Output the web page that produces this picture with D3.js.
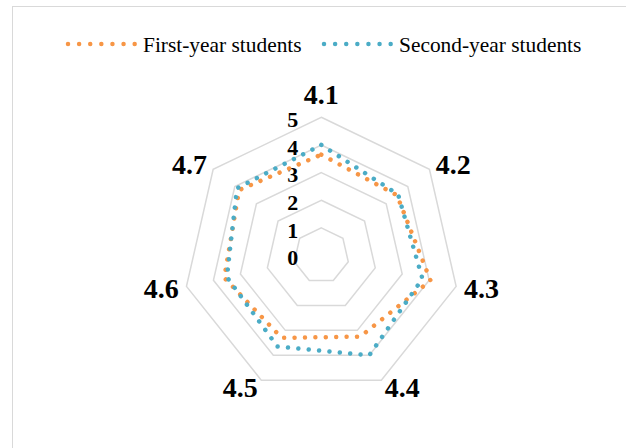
<!DOCTYPE html>
<html>
<head>
<meta charset="utf-8">
<script src="https://cdn.jsdelivr.net/npm/d3@7"></script>
<style>
  body { margin: 0; background: #fff; }
  svg { display: block; }
</style>
</head>
<body>
<svg id="chart" width="626" height="448"></svg>
<script>
  const CATEGORIES = ['4.1', '4.2', '4.3', '4.4', '4.5', '4.6', '4.7'];
  const FIRST_YEAR = [3.65, 3.5, 4.05, 3.25, 3.3, 3.6, 3.8];
  const SECOND_YEAR = [4.0, 3.55, 3.75, 4.0, 3.65, 3.5, 3.9];
  const RING_TICKS = [0, 1, 2, 3, 4, 5];
  const SERIES_NAMES = ['First-year students', 'Second-year students'];

  const ORANGE = '#F79646';
  const BLUE = '#4BACC6';
  const GRID = '#D9D9D9';
  const FONT = '"Liberation Serif", "Times New Roman", serif';

  const svg = d3.select('#chart');
  const cx = 321.3;
  const cy = 255.6;
  const R = 138.3;

  const r = d3.scaleLinear().domain([0, 5]).range([0, R]);
  const angle = d3.scaleLinear()
    .domain([0, CATEGORIES.length])
    .range([0, 2 * Math.PI]);

  init();

  function init() {
    drawFrame();
    drawLegend();

    const g = svg.append('g').attr('transform', `translate(${cx},${cy})`);
    drawRings(g);
    drawRingLabels(g);
    drawSeries(g, FIRST_YEAR, ORANGE);
    drawSeries(g, SECOND_YEAR, BLUE);
    drawCategoryLabels(g);
  }

  function drawFrame() {
    svg.append('rect')
      .attr('x', 12.5)
      .attr('y', 6.5)
      .attr('width', 700)
      .attr('height', 600)
      .attr('fill', 'none')
      .attr('stroke', GRID)
      .attr('stroke-width', 1);
  }

  function drawRings(g) {
    const ring = d3.lineRadial()
      .angle((d, i) => angle(i))
      .radius((d) => r(d))
      .curve(d3.curveLinearClosed);

    g.selectAll('.ring')
      .data(RING_TICKS.filter((t) => t > 0))
      .enter()
      .append('path')
        .attr('class', 'ring')
        .attr('d', (t) => ring(CATEGORIES.map(() => t)))
        .attr('fill', 'none')
        .attr('stroke', GRID)
        .attr('stroke-width', 1.5);
  }

  function drawRingLabels(g) {
    g.selectAll('.ring-label')
      .data(RING_TICKS)
      .enter()
      .append('text')
        .attr('class', 'ring-label')
        .attr('x', -23)
        .attr('y', (t) => -r(t) + 2)
        .attr('dy', '0.35em')
        .attr('text-anchor', 'end')
        .style('font-family', FONT)
        .style('font-weight', 'bold')
        .style('font-size', '22px')
        .text((t) => t);
  }

  function drawSeries(g, values, color) {
    const line = d3.lineRadial()
      .angle((d, i) => angle(i))
      .radius((d) => r(d))
      .curve(d3.curveLinearClosed);

    g.append('path')
      .attr('d', line(values))
      .attr('fill', 'none')
      .attr('stroke', color)
      .attr('stroke-width', 4.5)
      .attr('stroke-linecap', 'round')
      .attr('stroke-dasharray', '0.01 10.4');
  }

  function drawCategoryLabels(g) {
    const offset = 8;

    g.selectAll('.cat-label')
      .data(CATEGORIES)
      .enter()
      .append('text')
        .attr('class', 'cat-label')
        .each(function(d, i) {
          const a = angle(i);
          const s = Math.sin(a);
          const c = Math.cos(a);
          const label = d3.select(this);

          if (i === 0) {
            label
              .attr('x', 0)
              .attr('y', -(R + 13))
              .attr('text-anchor', 'middle');
          } else {
            label
              .attr('x', (R + offset) * s)
              .attr('y', -(R + offset) * c)
              .attr('dy', '0.35em')
              .attr('text-anchor', s > 0 ? 'start' : 'end');
          }
        })
        .style('font-family', FONT)
        .style('font-weight', 'bold')
        .style('font-size', '28px')
        .text((d) => d);
  }

  function drawLegend() {
    const items = [
      { name: SERIES_NAMES[0], color: ORANGE, x: 68 },
      { name: SERIES_NAMES[1], color: BLUE, x: 324 }
    ];
    const y = 44;

    const legend = svg.selectAll('.legend-item')
      .data(items)
      .enter()
      .append('g')
        .attr('class', 'legend-item')
        .attr('transform', (d) => `translate(${d.x},${y})`);

    legend.append('line')
      .attr('x1', 0)
      .attr('x2', 67)
      .attr('stroke', (d) => d.color)
      .attr('stroke-width', 4.5)
      .attr('stroke-linecap', 'round')
      .attr('stroke-dasharray', '0.01 11.1');

    legend.append('text')
      .attr('x', 75)
      .attr('dy', '0.35em')
      .style('font-family', FONT)
      .style('font-size', '21.4px')
      .style('fill', '#000')
      .text((d) => d.name);
  }
</script>
</body>
</html>
